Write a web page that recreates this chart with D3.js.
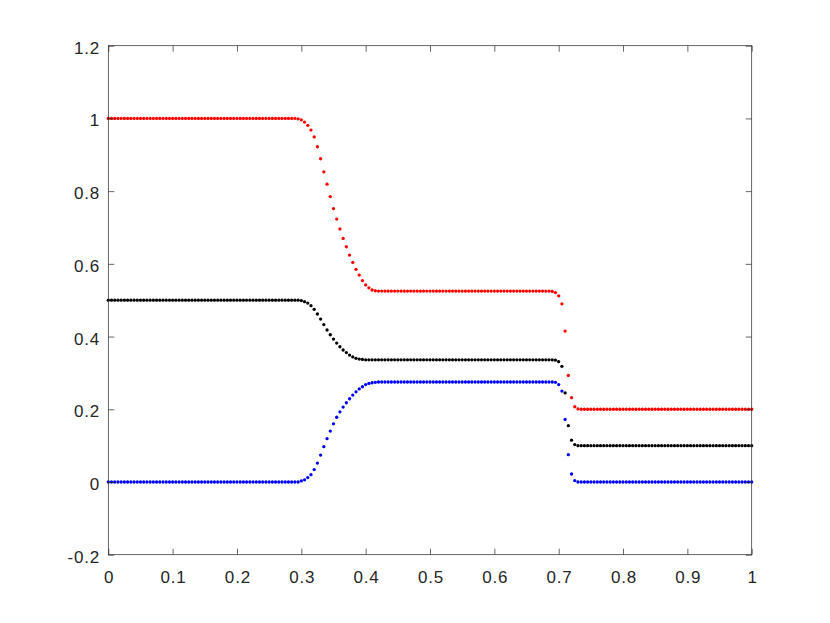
<!DOCTYPE html>
<html>
<head>
<meta charset="utf-8">
<script src="https://cdn.jsdelivr.net/npm/d3@7"></script>
<style>
  body { margin: 0; background: #fff; }
  svg { display: block; }
  .tick text { font-family: "Liberation Sans", Arial, sans-serif; font-size: 17px; letter-spacing: 0.8px; fill: #262626; }
</style>
</head>
<body>
<svg id="chart" width="830" height="623"></svg>
<script>
// sample positions (x grid of the solution)
const xs = [
  0.000,0.005,0.010,0.015,0.020,0.025,0.030,0.035,0.040,0.045,
  0.050,0.055,0.060,0.065,0.070,0.075,0.080,0.085,0.090,0.095,
  0.100,0.105,0.110,0.115,0.120,0.125,0.130,0.135,0.140,0.145,
  0.150,0.155,0.160,0.165,0.170,0.175,0.180,0.185,0.190,0.195,
  0.200,0.205,0.210,0.215,0.220,0.225,0.230,0.235,0.240,0.245,
  0.250,0.255,0.260,0.265,0.270,0.275,0.280,0.285,0.290,0.295,
  0.300,0.305,0.310,0.315,0.320,0.325,0.330,0.335,0.340,0.345,
  0.350,0.355,0.360,0.365,0.370,0.375,0.380,0.385,0.390,0.395,
  0.400,0.405,0.410,0.415,0.420,0.425,0.430,0.435,0.440,0.445,
  0.450,0.455,0.460,0.465,0.470,0.475,0.480,0.485,0.490,0.495,
  0.500,0.505,0.510,0.515,0.520,0.525,0.530,0.535,0.540,0.545,
  0.550,0.555,0.560,0.565,0.570,0.575,0.580,0.585,0.590,0.595,
  0.600,0.605,0.610,0.615,0.620,0.625,0.630,0.635,0.640,0.645,
  0.650,0.655,0.660,0.665,0.670,0.675,0.680,0.685,0.690,0.695,
  0.700,0.705,0.710,0.715,0.720,0.725,0.730,0.735,0.740,0.745,
  0.750,0.755,0.760,0.765,0.770,0.775,0.780,0.785,0.790,0.795,
  0.800,0.805,0.810,0.815,0.820,0.825,0.830,0.835,0.840,0.845,
  0.850,0.855,0.860,0.865,0.870,0.875,0.880,0.885,0.890,0.895,
  0.900,0.905,0.910,0.915,0.920,0.925,0.930,0.935,0.940,0.945,
  0.950,0.955,0.960,0.965,0.970,0.975,0.980,0.985,0.990,0.995,
  1.000
];

// red series
const redVals = [
  1,1,1,1,1,1,1,1,1,1,
  1,1,1,1,1,1,1,1,1,1,
  1,1,1,1,1,1,1,1,1,1,
  1,1,1,1,1,1,1,1,1,1,
  1,1,1,1,1,1,1,1,1,1,
  1,1,1,1,1,1,1,1,1,0.999,
  0.996,0.990,0.981,0.968,0.949,0.922,0.889,0.853,0.819,0.785,
  0.752,0.723,0.696,0.670,0.647,0.624,0.604,0.585,0.569,0.554,
  0.542,0.534,0.528,0.526,0.525,0.525,0.525,0.525,0.525,0.525,
  0.525,0.525,0.525,0.525,0.525,0.525,0.525,0.525,0.525,0.525,
  0.525,0.525,0.525,0.525,0.525,0.525,0.525,0.525,0.525,0.525,
  0.525,0.525,0.525,0.525,0.525,0.525,0.525,0.525,0.525,0.525,
  0.525,0.525,0.525,0.525,0.525,0.525,0.525,0.525,0.525,0.525,
  0.525,0.525,0.525,0.525,0.525,0.525,0.525,0.525,0.524,0.521,
  0.512,0.490,0.415,0.293,0.232,0.207,0.201,0.2,0.2,0.2,
  0.2,0.2,0.2,0.2,0.2,0.2,0.2,0.2,0.2,0.2,
  0.2,0.2,0.2,0.2,0.2,0.2,0.2,0.2,0.2,0.2,
  0.2,0.2,0.2,0.2,0.2,0.2,0.2,0.2,0.2,0.2,
  0.2,0.2,0.2,0.2,0.2,0.2,0.2,0.2,0.2,0.2,
  0.2,0.2,0.2,0.2,0.2,0.2,0.2,0.2,0.2,0.2,
  0.2
];

// black series
const blackVals = [
  0.5,0.5,0.5,0.5,0.5,0.5,0.5,0.5,0.5,0.5,
  0.5,0.5,0.5,0.5,0.5,0.5,0.5,0.5,0.5,0.5,
  0.5,0.5,0.5,0.5,0.5,0.5,0.5,0.5,0.5,0.5,
  0.5,0.5,0.5,0.5,0.5,0.5,0.5,0.5,0.5,0.5,
  0.5,0.5,0.5,0.5,0.5,0.5,0.5,0.5,0.5,0.5,
  0.5,0.5,0.5,0.5,0.5,0.5,0.5,0.5,0.5,0.5,
  0.499,0.496,0.492,0.485,0.475,0.462,0.448,0.433,0.418,0.405,
  0.393,0.382,0.372,0.363,0.356,0.349,0.344,0.340,0.338,0.337,
  0.336,0.336,0.336,0.336,0.336,0.336,0.336,0.336,0.336,0.336,
  0.336,0.336,0.336,0.336,0.336,0.336,0.336,0.336,0.336,0.336,
  0.336,0.336,0.336,0.336,0.336,0.336,0.336,0.336,0.336,0.336,
  0.336,0.336,0.336,0.336,0.336,0.336,0.336,0.336,0.336,0.336,
  0.336,0.336,0.336,0.336,0.336,0.336,0.336,0.336,0.336,0.336,
  0.336,0.336,0.336,0.336,0.336,0.336,0.336,0.336,0.336,0.335,
  0.331,0.318,0.245,0.155,0.115,0.103,0.1,0.1,0.1,0.1,
  0.1,0.1,0.1,0.1,0.1,0.1,0.1,0.1,0.1,0.1,
  0.1,0.1,0.1,0.1,0.1,0.1,0.1,0.1,0.1,0.1,
  0.1,0.1,0.1,0.1,0.1,0.1,0.1,0.1,0.1,0.1,
  0.1,0.1,0.1,0.1,0.1,0.1,0.1,0.1,0.1,0.1,
  0.1,0.1,0.1,0.1,0.1,0.1,0.1,0.1,0.1,0.1,
  0.1
];

// blue series
const blueVals = [
  0,0,0,0,0,0,0,0,0,0,
  0,0,0,0,0,0,0,0,0,0,
  0,0,0,0,0,0,0,0,0,0,
  0,0,0,0,0,0,0,0,0,0,
  0,0,0,0,0,0,0,0,0,0,
  0,0,0,0,0,0,0,0,0,0,
  0.003,0.006,0.012,0.020,0.034,0.052,0.074,0.097,0.119,0.140,
  0.160,0.178,0.193,0.206,0.218,0.229,0.239,0.248,0.256,0.262,
  0.268,0.271,0.273,0.274,0.275,0.275,0.275,0.275,0.275,0.275,
  0.275,0.275,0.275,0.275,0.275,0.275,0.275,0.275,0.275,0.275,
  0.275,0.275,0.275,0.275,0.275,0.275,0.275,0.275,0.275,0.275,
  0.275,0.275,0.275,0.275,0.275,0.275,0.275,0.275,0.275,0.275,
  0.275,0.275,0.275,0.275,0.275,0.275,0.275,0.275,0.275,0.275,
  0.275,0.275,0.275,0.275,0.275,0.275,0.275,0.275,0.275,0.274,
  0.268,0.250,0.172,0.075,0.022,0.004,0,0,0,0,
  0,0,0,0,0,0,0,0,0,0,
  0,0,0,0,0,0,0,0,0,0,
  0,0,0,0,0,0,0,0,0,0,
  0,0,0,0,0,0,0,0,0,0,
  0,0,0,0,0,0,0,0,0,0,
  0
];

const xTicks = [0, 0.1, 0.2, 0.3, 0.4, 0.5, 0.6, 0.7, 0.8, 0.9, 1];
const xTickLabels = ["0", "0.1", "0.2", "0.3", "0.4", "0.5", "0.6", "0.7", "0.8", "0.9", "1"];
const yTicks = [-0.2, 0, 0.2, 0.4, 0.6, 0.8, 1, 1.2];
const yTickLabels = ["-0.2", "0", "0.2", "0.4", "0.6", "0.8", "1", "1.2"];

const seriesList = [
  { name: "red", color: "#ff0000", values: redVals },
  { name: "black", color: "#000000", values: blackVals },
  { name: "blue", color: "#0000ff", values: blueVals }
];

const svg = d3.select("#chart");
const plotLeft = 108.3, plotRight = 751.7, plotTop = 45.7, plotBottom = 554.7;
const axisColor = "#262626";

svg.append("rect")
  .attr("width", 830).attr("height", 623)
  .attr("fill", "#fff");

let x = d3.scaleLinear().domain([0, 1]).range([plotLeft, plotRight]);
let y = d3.scaleLinear().domain([-0.2, 1.2]).range([plotBottom, plotTop]);

// markers
seriesList.forEach(s => {
  svg.append("g")
    .attr("class", "series-" + s.name)
    .selectAll("circle")
    .data(s.values)
    .enter().append("circle")
    .attr("cx", (d, i) => x(xs[i]))
    .attr("cy", d => y(d))
    .attr("r", 1.65)
    .attr("fill", s.color);
});

// axes, ticks point inward like matlab
let fmtX = d => xTickLabels[xTicks.indexOf(d)];
let fmtY = d => yTickLabels[yTicks.indexOf(d)];

let gx = svg.append("g")
  .attr("transform", `translate(0,${plotBottom})`)
  .call(d3.axisBottom(x).tickValues(xTicks).tickFormat(fmtX).tickSize(-6).tickPadding(16.5));
let gxTop = svg.append("g")
  .attr("transform", `translate(0,${plotTop})`)
  .call(d3.axisTop(x).tickValues(xTicks).tickFormat("").tickSize(-6));
let gy = svg.append("g")
  .attr("transform", `translate(${plotLeft},0)`)
  .call(d3.axisLeft(y).tickValues(yTicks).tickFormat(fmtY).tickSize(-6).tickPadding(8.2));
let gyRight = svg.append("g")
  .attr("transform", `translate(${plotRight},0)`)
  .call(d3.axisRight(y).tickValues(yTicks).tickFormat("").tickSize(-6));

gy.selectAll(".tick text").attr("dy", "0.44em");
gx.selectAll(".tick text").attr("dx", "0.4px");

[gx, gxTop, gy, gyRight].forEach(g => {
  g.select(".domain").remove();
  g.selectAll(".tick line").attr("stroke", axisColor).attr("stroke-width", 0.7);
});

// box
svg.append("rect")
  .attr("x", plotLeft).attr("y", plotTop)
  .attr("width", plotRight - plotLeft).attr("height", plotBottom - plotTop)
  .attr("fill", "none")
  .attr("stroke", axisColor)
  .attr("stroke-width", 0.7);
</script>
</body>
</html>
